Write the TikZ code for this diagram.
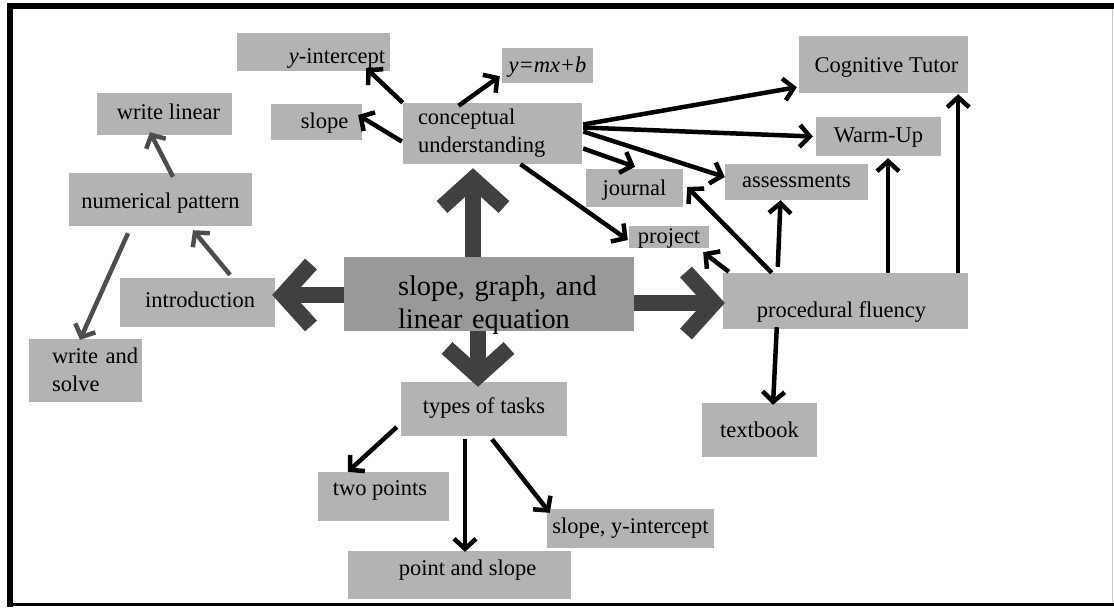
\documentclass[tikz,border=0pt]{standalone}
\usepackage{fontspec}
\setmainfont{Liberation Serif}
\usetikzlibrary{arrows.meta,calc}
\definecolor{boxfill}{HTML}{B3B3B3}
\definecolor{corefill}{HTML}{999999}
\definecolor{bigarrow}{HTML}{404040}
\definecolor{softarrow}{HTML}{4D4D4D}
\begin{document}
\begin{tikzpicture}[x=1pt,y=-1pt,
  box/.style={fill=boxfill, inner sep=0pt, text height=15pt, text depth=5pt,
    font=\fontsize{22.5}{28}\selectfont},
  link/.style={draw=black, line width=4.5pt, -{Straight Barb[length=10pt,width=22pt,sharp]}},
  softlink/.style={link, draw=softarrow},
  bigflow/.style={draw=bigarrow, line width=16pt, -{Straight Barb[length=28pt,width=62pt,sharp]}},
]
% canvas and frame
\fill[white] (0,0) rectangle (1114,608);
\useasboundingbox (0,0) rectangle (1114,608);
\draw[line width=6pt] (10,606.5) -- (10,6) -- (1114,6);
\draw[line width=3pt] (8,604.5) -- (1114,604.5);
\draw[line width=1.5pt, draw=gray!40] (1112.5,9) -- (1112.5,603);

% central topic
\node[box, fill=corefill, minimum width=290, minimum height=74,
  font=\fontsize{28.4}{33}\selectfont, text width=230pt, align=left,
  text height=30pt, text depth=28pt] (core) at (489,294)
  {\hspace*{24pt}slope, graph, and\\\hspace*{24pt}linear equation};

% conceptual branch
\node[box, minimum width=179, minimum height=61, text width=149pt, align=left,
  text height=10pt, text depth=29pt] (cu) at (492.5,133.5) {conceptual\\understanding};
\node[box, minimum width=153, minimum height=38, text height=26pt, text depth=4pt]
  (yint) at (313.5,52) {\hspace*{47pt}\textit{y}-intercept};
\node[box, minimum width=91, minimum height=36, text height=16pt, text depth=4pt]
  (slp) at (316.5,122) {\hspace*{16pt}slope};
\node[box, minimum width=91, minimum height=35, text height=16pt, text depth=3pt]
  (ymx) at (547.5,65.5) {\textit{y=mx+b}};
\node[box, minimum width=97, minimum height=38, text height=17pt, text depth=3pt]
  (jour) at (634.5,188) {journal};
\node[box, minimum width=80, minimum height=22, text height=14pt, text depth=2pt]
  (proj) at (669,237) {project};
\node[box, minimum width=169, minimum height=57, text height=18pt, text depth=3pt]
  (ct) at (883.5,64.5) {\hspace*{6pt}Cognitive Tutor};
\node[box, minimum width=125, minimum height=39, text height=16pt, text depth=5pt]
  (wu) at (878.5,136.5) {Warm-Up};
\node[box, minimum width=143, minimum height=36] (ass) at (796.5,182) {assessments};

% procedural branch
\node[box, minimum width=245, minimum height=56, text height=34pt, text depth=2pt]
  (pf) at (845.5,301) {procedural fluency\hspace*{8pt}};
\node[box, minimum width=115, minimum height=54, text height=17pt, text depth=3pt]
  (tb) at (759.5,430) {textbook};

% introduction branch
\node[box, minimum width=155, minimum height=49] (intro) at (197.5,302.5) {\hspace*{5pt}introduction};
\node[box, minimum width=183, minimum height=53, text height=22pt, text depth=5pt]
  (num) at (160.5,199.5) {numerical pattern};
\node[box, minimum width=135, minimum height=42] (wlin) at (164.5,114) {\hspace*{8pt}write linear};
\node[box, minimum width=113, minimum height=63, text width=113pt, align=left,
  text height=12pt, text depth=27pt] (wsol) at (85.5,370.5)
  {\hspace*{23pt}write and\\\hspace*{23pt}solve};

% task branch
\node[box, minimum width=166, minimum height=54, text height=14pt, text depth=6pt]
  (tasks) at (484,409) {types of tasks};
\node[box, minimum width=131, minimum height=49, text height=10pt, text depth=13pt]
  (twop) at (383.5,496.5) {two points\hspace*{7pt}};
\node[box, minimum width=223, minimum height=48, text height=12pt, text depth=12pt]
  (pas) at (459.5,575) {\hspace*{16pt}point and slope};
\node[box, minimum width=167, minimum height=39, text height=14pt, text depth=5pt]
  (sly) at (630.5,528.5) {slope, y-intercept};

% thick arrows out of the central topic
\draw[bigflow] ($(core.north)+(-16,0)$) -- ($(cu.south)+(-19.5,4)$);
\draw[bigflow] ($(core.west)+(0,1)$) -- ($(intro.east)+(-3,-7.5)$);
\draw[bigflow] ($(core.east)+(0,9)$) -- ($(pf.west)+(2,2)$);
\draw[bigflow] ($(core.south)+(-11,0)$) -- ($(tasks.north)+(-6,5)$);

% conceptual understanding links
\draw[link] (cu.north west) -- ($(yint.south east)+(-24,-3)$);
\draw[link] ($(cu.west)+(-1,8)$) -- ($(slp.east)+(-4,-7)$);
\draw[link] ($(cu.north)+(-34,3)$) -- ($(ymx.south west)+(-2,-7)$);
\draw[link] ($(cu.east)+(1,-9)$) -- ($(ct.south west)+(-2,-6)$);
\draw[link] ($(cu.east)+(1,-6)$) -- ($(wu.west)+(-3,0)$);
\draw[link] ($(cu.east)+(1,-2)$) -- ($(ass.west)+(0,-5)$);
\draw[link] ($(cu.east)+(1,15)$) -- ($(jour.north)+(0.5,-2)$);
\draw[link] ($(cu.south)+(28,0)$) -- ($(proj.west)+(-1,3)$);

% procedural fluency links
\draw[link] ($(pf.north west)+(49,0)$) -- ($(jour.east)+(4,-1)$);
\draw[link] ($(pf.north west)+(6,-1)$) -- ($(proj.south east)+(-6,4)$);
\draw[link] ($(pf.north west)+(55,-6)$) -- ($(ass.south)+(-16,0)$);
\draw[link] ($(pf.north)+(42.5,0)$) -- ($(wu.south)+(9.5,2)$);
\draw[link] ($(pf.north east)+(-10,0)$) -- ($(ct.south east)+(-10,1)$);
\draw[link] ($(pf.south west)+(54,-2)$) -- ($(tb.north)+(13.5,2)$);

% task links
\draw[link] ($(tasks.west)+(-4,18)$) -- ($(twop.north west)+(30,0)$);
\draw[link] ($(tasks.south)+(-19,3)$) -- ($(pas.north)+(5.5,1)$);
\draw[link] ($(tasks.south)+(8,3)$) -- ($(sly.north west)+(3,4)$);

% introduction links
\draw[softlink] ($(num.north)+(12.5,4)$) -- ($(wlin.south)+(-14.5,-3)$);
\draw[softlink] ($(num.south)+(-32.5,7)$) -- ($(wsol.north)+(-5.5,1)$);
\draw[softlink] ($(intro.north)+(32.5,-3)$) -- ($(num.south)+(32.5,4)$);
\end{tikzpicture}
\end{document}
